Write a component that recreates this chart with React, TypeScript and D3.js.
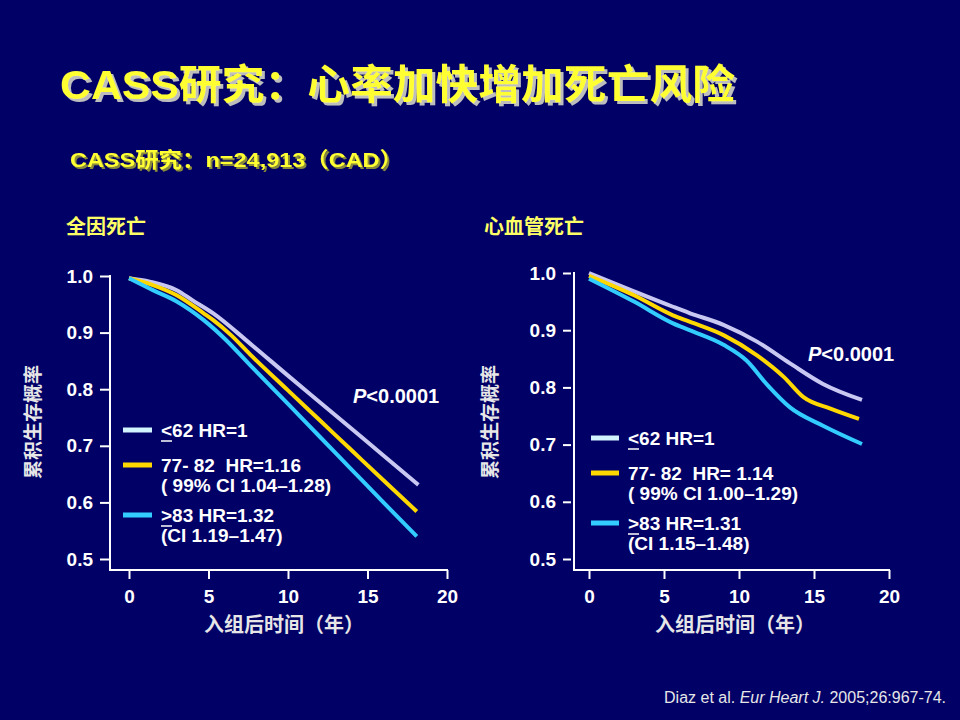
import React, { useEffect, useRef } from "react";
import * as d3 from "d3";

// survival curves (t = years since enrolment, s = cumulative survival)
interface Pt {
    t: number;
    s: number;
}

const allCauseLow: Pt[] = [
    { t: 0, s: 0.996 }, { t: 1.3, s: 0.99 }, { t: 3, s: 0.975 }, { t: 4, s: 0.957 },
    { t: 5.3, s: 0.934 }, { t: 7.6, s: 0.881 }, { t: 10, s: 0.824 }, { t: 12, s: 0.777 },
    { t: 14, s: 0.73 }, { t: 16, s: 0.683 }, { t: 18.2, s: 0.631 },
];
const allCauseMid: Pt[] = [
    { t: 0, s: 0.996 }, { t: 1.5, s: 0.984 }, { t: 3, s: 0.966 }, { t: 4.7, s: 0.934 },
    { t: 5.3, s: 0.922 }, { t: 6.4, s: 0.896 }, { t: 7.6, s: 0.862 }, { t: 10, s: 0.798 },
    { t: 12, s: 0.745 }, { t: 14, s: 0.692 }, { t: 16, s: 0.639 }, { t: 18.1, s: 0.584 },
];
const allCauseHigh: Pt[] = [
    { t: 0, s: 0.996 }, { t: 1.5, s: 0.975 }, { t: 3, s: 0.955 }, { t: 4.7, s: 0.922 },
    { t: 6.1, s: 0.887 }, { t: 7.6, s: 0.843 }, { t: 10, s: 0.774 }, { t: 12, s: 0.716 },
    { t: 14, s: 0.658 }, { t: 16, s: 0.6 }, { t: 18.1, s: 0.54 },
];

const cvLow: Pt[] = [
    { t: 0, s: 1.0 }, { t: 3, s: 0.968 }, { t: 5.6, s: 0.941 }, { t: 6.7, s: 0.93 },
    { t: 9, s: 0.909 }, { t: 11.2, s: 0.88 }, { t: 13.4, s: 0.842 }, { t: 15.6, s: 0.806 },
    { t: 18.2, s: 0.778 },
];
const cvMid: Pt[] = [
    { t: 0, s: 0.995 }, { t: 3, s: 0.961 }, { t: 5.6, s: 0.926 }, { t: 6.7, s: 0.915 },
    { t: 9, s: 0.891 }, { t: 11.2, s: 0.856 }, { t: 13, s: 0.818 }, { t: 14.3, s: 0.783 },
    { t: 16.1, s: 0.763 }, { t: 18, s: 0.745 },
];
const cvHigh: Pt[] = [
    { t: 0, s: 0.99 }, { t: 3, s: 0.95 }, { t: 5.6, s: 0.912 }, { t: 6.7, s: 0.9 },
    { t: 9, s: 0.874 }, { t: 10.5, s: 0.847 }, { t: 11.9, s: 0.804 }, { t: 13.4, s: 0.765 },
    { t: 15.6, s: 0.733 }, { t: 18.2, s: 0.701 },
];

const xTicks = [0, 5, 10, 15, 20];
const yTicks = [0.5, 0.6, 0.7, 0.8, 0.9, 1.0];

const leftLegend = [["<62 HR=1"], ["77- 82  HR=1.16", "( 99% CI 1.04\u20131.28)"], [">83 HR=1.32", "(CI 1.19\u20131.47)"]];
const rightLegend = [["<62 HR=1"], ["77- 82  HR= 1.14", "( 99% CI 1.00\u20131.29)"], [">83 HR=1.31", "(CI 1.15\u20131.48)"]];

const curveColors = ["#c8c8f2", "#ffd800", "#33ccff"];
const swatchColors = ["#d2f4ff", "#ffd800", "#33ccff"];

const BG = "#000066";
const LATIN = "'Liberation Sans', Arial, 'Noto Sans CJK SC', sans-serif";
const CJK = "'Noto Sans CJK SC', 'Liberation Sans', sans-serif";

interface PanelProps {
    title: string;
    series: Pt[][];
    legend: string[][];
    x0: number; x1: number; // pixel positions of year 0 and year 20
    yBottom: number; yTop: number; // pixel positions of 0.5 and 1.0
    axisX: number; baseY: number; tickX: number; tickLen: number;
    legendX: number; legendY: number[]; swatchW: number;
    pX: number; pY: number;
    titleX: number; yTitleX: number;
}

const Panel = (p: PanelProps) => {
    const xRef = useRef(null);
    const yRef = useRef(null);
    const x = d3.scaleLinear().domain([0, 20]).range([p.x0, p.x1]);
    const y = d3.scaleLinear().domain([0.5, 1]).range([p.yBottom, p.yTop]);

    useEffect(() => {
        const xg = d3.select(xRef.current);
        xg.selectAll("*").remove();
        xg.call(d3.axisBottom(x).tickValues(xTicks).tickSize(9).tickPadding(11) as any);
        xg.select(".domain").remove();
        xg.attr("font-size", 19).attr("font-family", LATIN).attr("font-weight", "bold");
        xg.selectAll("line").attr("stroke-width", 2);

        const yg = d3.select(yRef.current);
        yg.selectAll("*").remove();
        yg.call(d3.axisLeft(y).tickValues(yTicks).tickSize(p.tickLen).tickPadding(7).tickFormat(d3.format(".1f")) as any);
        yg.select(".domain").remove();
        yg.attr("font-size", 19).attr("font-family", LATIN).attr("font-weight", "bold");
        yg.selectAll("line").attr("stroke-width", 2);
    }, []);

    const line = d3.line<Pt>().x((d) => x(d.t)).y((d) => y(d.s)).curve(d3.curveMonotoneX);
    const midX = (p.x0 + p.x1) / 2;

    return (
        <g>
            <text x={p.titleX} y={234} fill="#ffff66" fontFamily={CJK} fontWeight="bold" fontSize={20}>{p.title}</text>
            <text transform={`translate(${p.yTitleX},422) rotate(-90)`} textAnchor="middle" fill="#e6e6e6"
                fontFamily={CJK} fontWeight="bold" fontSize={19}>累积生存概率</text>
            <line x1={p.axisX} x2={p.axisX} y1={p.yTop - 1} y2={p.baseY} stroke="white" strokeWidth={2} />
            <line x1={p.axisX - 1} x2={p.x1 + 1} y1={p.baseY} y2={p.baseY} stroke="white" strokeWidth={2} />
            <g ref={xRef} transform={`translate(0,${p.baseY})`} style={{ color: "white" }} />
            <g ref={yRef} transform={`translate(${p.tickX},0)`} style={{ color: "white" }} />
            <text x={midX - 4} y={632} textAnchor="middle" fill="#e6e6e6" fontFamily={CJK} fontWeight="bold" fontSize={20}>
                入组后时间（年）
            </text>
            {p.series.map((s, i) => (
                <path key={i} d={line(s) || ""} fill="none" stroke={curveColors[i]} strokeWidth={4} strokeLinecap="butt" />
            ))}
            <text x={p.pX} y={p.pY} fill="white" fontFamily={LATIN} fontWeight="bold" fontSize={20}>
                <tspan fontStyle="italic">P</tspan>&lt;0.0001
            </text>
            {p.legend.map((rows, i) => {
                const base = p.legendY[i];
                return (
                    <g key={i}>
                        <line x1={p.legendX} x2={p.legendX + p.swatchW} y1={base - 7} y2={base - 7}
                            stroke={swatchColors[i]} strokeWidth={5} />
                        {rows.map((r, j) => (
                            <text key={j} x={p.legendX + p.swatchW + 9} y={base + j * 20} fill="white"
                                fontFamily={LATIN} fontWeight="bold" fontSize={19} style={{ whiteSpace: "pre" }}>{r}</text>
                        ))}
                        {i !== 1 && (
                            <line x1={p.legendX + p.swatchW + 9} x2={p.legendX + p.swatchW + 20}
                                y1={base + 4} y2={base + 4} stroke="white" strokeWidth={1.5} />
                        )}
                    </g>
                );
            })}
        </g>
    );
};

const App = () => {
    return (
        <svg width={960} height={720} viewBox="0 0 960 720"
            style={{ position: "absolute", left: 0, top: 0, display: "block" }}>
            <defs>
                <filter id="titleShadow" x="-5%" y="-20%" width="110%" height="150%">
                    <feDropShadow dx={3} dy={3} stdDeviation={0.6} floodColor="#bdbdbd" floodOpacity={1} />
                </filter>
                <filter id="subShadow" x="-5%" y="-20%" width="110%" height="150%">
                    <feDropShadow dx={2} dy={2} stdDeviation={0.5} floodColor="#8a8a3a" floodOpacity={1} />
                </filter>
            </defs>
            <rect width={960} height={720} fill={BG} />
            <g fontFamily={LATIN} fontWeight="bold">
                <text x={60} y={99} fill="#ffff33" fontSize={41} textLength={675} lengthAdjust="spacingAndGlyphs"
                    filter="url(#titleShadow)">
                    CASS研究：心率加快增加死亡风险
                </text>
                <text x={70} y={167} fill="#ffff33" fontSize={21} textLength={333} lengthAdjust="spacingAndGlyphs"
                    filter="url(#subShadow)">
                    CASS研究：n=24,913（CAD）
                </text>
            </g>
            <Panel title="全因死亡" series={[allCauseLow, allCauseMid, allCauseHigh]} legend={leftLegend}
                x0={129} x1={447} yBottom={559} yTop={276} axisX={110} baseY={570} tickX={110} tickLen={10}
                legendX={123} legendY={[437, 472, 522]} swatchW={29} pX={353} pY={403} titleX={66} yTitleX={40} />
            <Panel title="心血管死亡" series={[cvLow, cvMid, cvHigh]} legend={rightLegend}
                x0={589} x1={889} yBottom={559} yTop={273} axisX={574} baseY={570} tickX={571} tickLen={8}
                legendX={591} legendY={[445, 480, 530]} swatchW={28} pX={808} pY={361} titleX={484} yTitleX={497} />
            <text x={946} y={703} textAnchor="end" fill="#e6e6e6" fontFamily={LATIN} fontSize={16}>
                Diaz et al. <tspan fontStyle="italic">Eur Heart J.</tspan> 2005;26:967-74.
            </text>
        </svg>
    );
};

export default App;
